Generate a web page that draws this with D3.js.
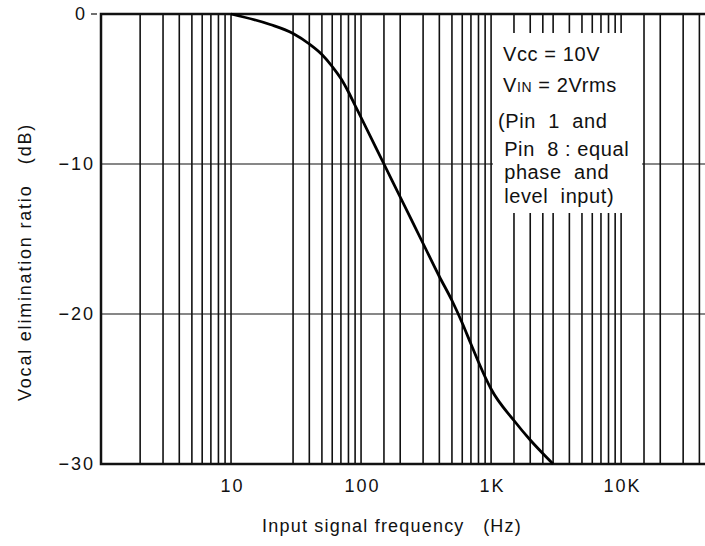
<!DOCTYPE html>
<html>
<head>
<meta charset="utf-8">
<script src="https://cdn.jsdelivr.net/npm/d3@7"></script>
<style>
  body { margin: 0; background: #fff; }
  svg { display: block; overflow: hidden; }
  text { font-family: "Liberation Sans", Arial, sans-serif; fill: #111; }
</style>
</head>
<body>
<svg width="705" height="546"></svg>
<script>
// response curve (Hz, dB)
const freqs = [10, 20, 30, 40, 50, 60, 70, 80, 90, 100, 150, 200, 300, 400, 500, 600, 700, 800, 900, 1000, 1500, 2000, 2500, 3000];
const gains = [0, -0.7, -1.3, -2.0, -2.7, -3.5, -4.3, -5.2, -6.1, -6.9, -10, -12.2, -15.3, -17.5, -19.1, -20.6, -22.0, -23.2, -24.2, -25.0, -27.1, -28.4, -29.3, -30];

// vertical grid lines printed on the log paper
const gridFreqs = [2, 3, 4, 5, 6, 7, 8, 9, 10,
  30, 40, 50, 60, 70, 80, 90, 100,
  150, 200, 300, 400, 500, 600, 700, 800, 900, 1000,
  1500, 2000, 2500, 3000, 4000, 5000, 6000, 7000, 8000, 9000, 10000,
  15000, 20000, 30000, 40000];

const xTicks = [10, 100, 1000, 10000];
const xTickLabels = ["10", "100", "1K", "10K"];
const yTicks = [0, -10, -20, -30];
const yTickLabels = ["0", "\u221210", "\u221220", "\u221230"];

const legendLines = [
  ["V", "cc", " = 10V"],
  ["V", "IN", " = 2Vrms"],
  ["(Pin  1  and"],
  [" Pin  8 : equal"],
  [" phase  and"],
  [" level  input)"]
];

const svg = d3.select("svg");

const x = d3.scaleLog().domain([1, 50000]).range([101, 712]);
const y = d3.scaleLinear().domain([-30, 0]).range([464, 14]);

// vertical grid
svg.append("g")
  .selectAll("line")
  .data(gridFreqs)
  .join("line")
  .attr("x1", d => x(d)).attr("x2", d => x(d))
  .attr("y1", y(0)).attr("y2", y(-30))
  .attr("stroke", "#111")
  .attr("stroke-width", 1.6);

// horizontal grid
svg.append("g")
  .selectAll("line")
  .data([-10, -20])
  .join("line")
  .attr("x1", x(1)).attr("x2", 705)
  .attr("y1", d => y(d)).attr("y2", d => y(d))
  .attr("stroke", "#111")
  .attr("stroke-width", 1.2);

// frame (top, bottom, left)
svg.append("path")
  .attr("d", `M705,${y(0)}H${x(1)}V${y(-30)}H705`)
  .attr("fill", "none")
  .attr("stroke", "#111")
  .attr("stroke-width", 2.5);

// legend box covers the grid
const lg = svg.append("g");
lg.append("rect")
  .attr("x", 493).attr("y", 33)
  .attr("width", 149).attr("height", 180)
  .attr("fill", "#fff");

const lgBase = [61, 92, 128, 156, 179, 203];
lg.selectAll("text")
  .data(legendLines)
  .join("text")
  .attr("x", (d, i) => i < 2 ? 503 : 498)
  .attr("y", (d, i) => lgBase[i])
  .attr("font-size", 20)
  .attr("letter-spacing", 0.6)
  .style("white-space", "pre")
  .each(function (parts) {
    const t = d3.select(this);
    parts.forEach((p, j) => {
      const ts = t.append("tspan").text(p);
      if (p === "IN") ts.attr("font-size", 14);
    });
  });

// curve
const pts = freqs.map((f, i) => [f, gains[i]]);
svg.append("path")
  .datum(pts)
  .attr("fill", "none")
  .attr("stroke", "#000")
  .attr("stroke-width", 2.8)
  .attr("d", d3.line().x(d => x(d[0])).y(d => y(d[1])).curve(d3.curveMonotoneX));

// axes
const xAxis = svg.append("g")
  .attr("transform", `translate(1,${y(-30)})`)
  .call(d3.axisBottom(x).tickValues(xTicks).tickSize(0).tickPadding(15)
    .tickFormat((d, i) => xTickLabels[i]));
xAxis.select(".domain").remove();
xAxis.selectAll("text").attr("font-size", 18).attr("fill", "#111")
  .attr("letter-spacing", 2)
  .attr("font-family", "Liberation Sans, Arial, sans-serif");

const yAxis = svg.append("g")
  .attr("transform", `translate(${x(1)},0)`)
  .call(d3.axisLeft(y).tickValues(yTicks).tickSize(0).tickPadding(6)
    .tickFormat((d, i) => yTickLabels[i]));
yAxis.select(".domain").remove();
yAxis.selectAll("text").attr("font-size", 18).attr("fill", "#111")
  .attr("letter-spacing", 2)
  .attr("font-family", "Liberation Sans, Arial, sans-serif")
  .attr("dx", d => d === 0 ? -8 : 0);

// small dash next to the 0 label
svg.append("line")
  .attr("x1", 91).attr("x2", 97)
  .attr("y1", y(0)).attr("y2", y(0))
  .attr("stroke", "#111").attr("stroke-width", 1.2);

// axis titles
svg.append("text")
  .attr("transform", `translate(31,262) rotate(-90)`)
  .attr("text-anchor", "middle")
  .attr("font-size", 18)
  .attr("letter-spacing", 1.8)
  .style("white-space", "pre")
  .text("Vocal elimination ratio   (dB)");

svg.append("text")
  .attr("x", 392).attr("y", 532)
  .attr("text-anchor", "middle")
  .attr("font-size", 18)
  .attr("letter-spacing", 1.2)
  .style("white-space", "pre")
  .text("Input signal frequency   (Hz)");
</script>
</body>
</html>
